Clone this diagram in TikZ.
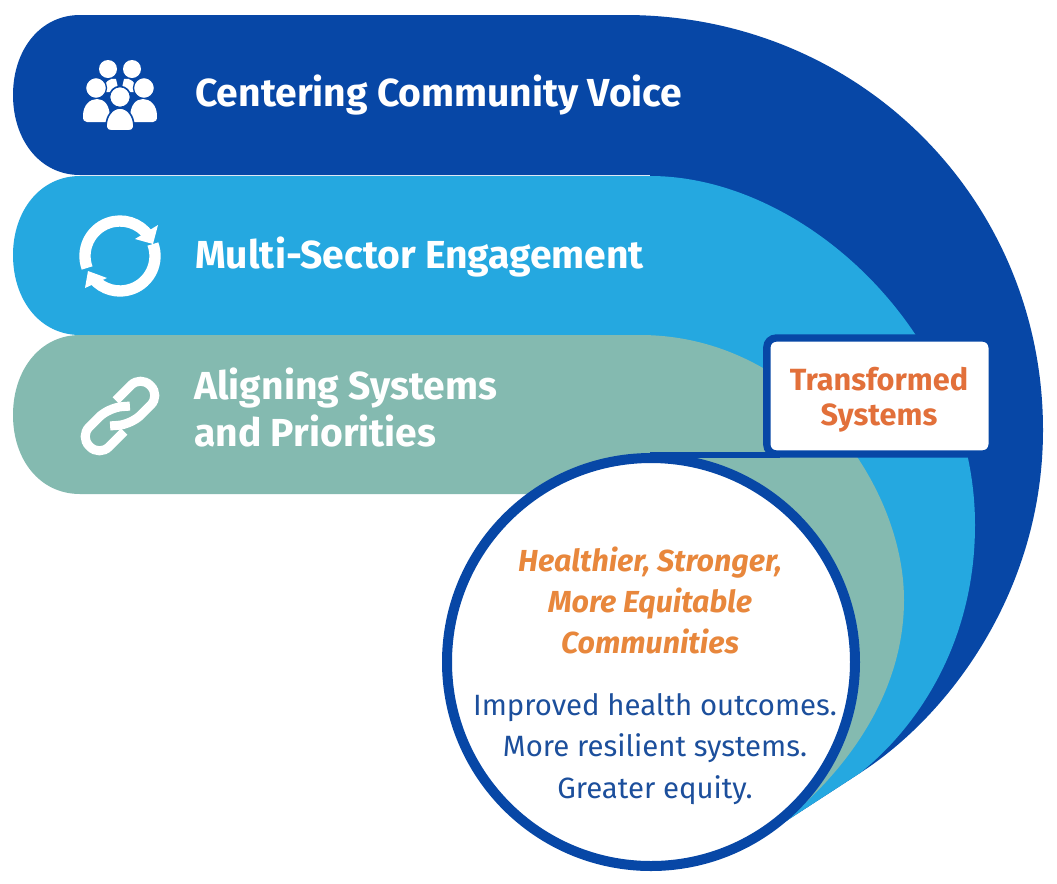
\documentclass[tikz,border=0pt]{standalone}
\usepackage{fontspec}
\setmainfont{Fira Sans}
\usepackage{tikz}
\definecolor{deepblue}{HTML}{0747A6}
\definecolor{skyblue}{HTML}{25A8E0}
\definecolor{sage}{HTML}{84BAB0}
\definecolor{rust}{HTML}{E2703A}
\definecolor{amber}{HTML}{E8873C}
\definecolor{inkblue}{HTML}{1C4F9C}

\begin{document}
\begin{tikzpicture}[
        x=0.75pt,
        y=-0.75pt,
        bandlabel/.style={anchor=base west, text=white, font=\fontsize{29.3}{33}\selectfont\bfseries, inner sep=0pt},
        boxlabel/.style={anchor=base, text=rust, font=\fontsize{23}{27}\selectfont\bfseries, inner sep=0pt},
        goallabel/.style={anchor=base, text=amber, font=\fontsize{22.8}{27}\selectfont\bfseries\itshape, inner sep=0pt},
        bodylabel/.style={anchor=base, text=inkblue, font=\fontsize{22}{26}\selectfont, inner sep=0pt},
        iconline/.style={draw=white, line width=8.5pt, fill=none},
        linkline/.style={draw=white, line width=6.8pt, rounded corners=10pt}
    ]
        \useasboundingbox (0,0) rectangle (1057,883);
        \fill[white] (0,0) rectangle (1057,883);

        % bands
        \fill[deepblue] (80,15) -- (625,15) .. controls (860,15) and (1043,200) .. (1043,430)
            .. controls (1043,590) and (950,715) .. (860,773) -- (777,827) -- (650,175) -- (80,175)
            .. controls (40,175) and (13,140) .. (13,95) .. controls (13,50) and (40,15) .. (80,15) -- cycle;
        \fill[skyblue] (80,176) -- (650,176) .. controls (805,176) and (975,335) .. (975,525)
            .. controls (975,640) and (920,725) .. (860,773) -- (777,827) -- (640,335) -- (80,335)
            .. controls (40,335) and (13,300) .. (13,255) .. controls (13,211) and (40,176) .. (80,176) -- cycle;
        \fill[sage] (80,335) -- (640,335) .. controls (797,335) and (904,482) .. (904,600)
            .. controls (904,690) and (850,770) .. (777,827) -- (560,494) -- (80,494)
            .. controls (40,494) and (13,460) .. (13,415) .. controls (13,370) and (40,335) .. (80,335) -- cycle;

        % circle and box
        \draw[deepblue, line width=4.5pt] (650,455) -- (780,455);
        \node[draw=deepblue, fill=white, line width=7.5pt, circle, minimum size=306pt, inner sep=0pt] (goal) at (651,662) {};
        \node[draw=deepblue, fill=white, line width=5.5pt, rounded corners=7pt, minimum width=169pt, minimum height=87pt, inner sep=0pt] (box) at (879.5,396) {};

        % people icon
        \fill[white] (108,69) circle (9) (132,69) circle (9);
        \fill[white] (103,92) .. controls (104,82) and (110,77) .. (116,79) -- (119,92) -- cycle;
        \fill[white] (137,92) .. controls (136,82) and (130,77) .. (124,79) -- (121,92) -- cycle;
        \fill[white, draw=deepblue, line width=1pt] (96,88) circle (10.5) (144,88) circle (10.5);
        \fill[white] (83,116) .. controls (83,105) and (90,99) .. (97,99) .. controls (104,99) and (110,105) .. (110,118) -- (106,122) -- (87,122) .. controls (84,122) and (83,120) .. (83,116) -- cycle;
        \fill[white] (157,116) .. controls (157,105) and (150,99) .. (143,99) .. controls (136,99) and (130,105) .. (130,118) -- (134,122) -- (153,122) .. controls (156,122) and (157,120) .. (157,116) -- cycle;
        \fill[white, draw=deepblue, line width=1.2pt] (120,97) circle (10.5);
        \fill[white, draw=deepblue, line width=1.2pt] (106,127) .. controls (106,115) and (113,108) .. (120,108) .. controls (127,108) and (134,115) .. (134,127) .. controls (134,130) and (131,131) .. (128,131) -- (112,131) .. controls (109,131) and (106,130) .. (106,127) -- cycle;

        % cycle icon
        \draw[iconline] (120,256) ++(160:35) arc[start angle=160, end angle=325, radius=35];
        \draw[iconline] (120,256) ++(-20:35) arc[start angle=-20, end angle=140, radius=35];
        \fill[white] (158,225) -- (135,239) -- (153,244) -- cycle;
        \fill[white] (85,288) -- (88,271) -- (107,278) -- cycle;

        % chain icon
        \begin{scope}[shift={(120,416)}, rotate=45]
            \draw[linkline] (8,-14) -- (43,-14) -- (43,14) -- (2,14) -- (-14,0);
            \draw[linkline] (-8,14) -- (-43,14) -- (-43,-14) -- (-2,-14) -- (14,0);
        \end{scope}

        % labels
        \node[bandlabel] (voice) at (195,106) {Centering Community Voice};
        \node[bandlabel] (sector) at (195,268) {Multi-Sector Engagement};
        \node[bandlabel] (align) at (194,399) {Aligning Systems};
        \node[bandlabel] (priority) at (194,446) {and Priorities};

        \node[boxlabel] (trans) at (879,390) {Transformed};
        \node[boxlabel] (syst) at (879,425) {Systems};

        \node[goallabel] (goala) at (650,571) {Healthier, Stronger,};
        \node[goallabel] (goalb) at (650,612) {More Equitable};
        \node[goallabel] (goalc) at (650,653) {Communities};

        \node[bodylabel] (bodya) at (655,715) {Improved health outcomes.};
        \node[bodylabel] (bodyb) at (655,756) {More resilient systems.};
        \node[bodylabel] (bodyc) at (655,798) {Greater equity.};
    \end{tikzpicture}
\end{document}
